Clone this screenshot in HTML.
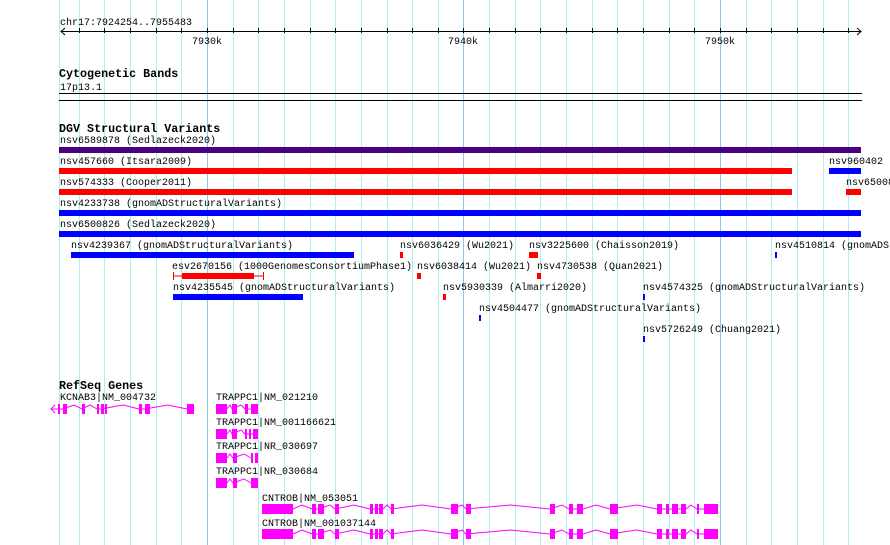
<!DOCTYPE html>
<html><head><meta charset="utf-8"><style>
html,body{margin:0;padding:0;background:#fff;width:890px;height:545px;overflow:hidden}
text{font-family:"Liberation Mono",monospace;font-size:10px;fill:#000}
.b{font-weight:bold;font-size:11.7px}
</style></head><body>
<svg width="890" height="545" xmlns="http://www.w3.org/2000/svg">
<g stroke="#aeeef0" stroke-width="1">
<line x1="59.5" y1="0" x2="59.5" y2="545"/>
<line x1="79.5" y1="0" x2="79.5" y2="545"/><line x1="104.5" y1="0" x2="104.5" y2="545"/><line x1="130.5" y1="0" x2="130.5" y2="545"/><line x1="156.5" y1="0" x2="156.5" y2="545"/><line x1="181.5" y1="0" x2="181.5" y2="545"/>
<line x1="233.5" y1="0" x2="233.5" y2="545"/><line x1="258.5" y1="0" x2="258.5" y2="545"/><line x1="284.5" y1="0" x2="284.5" y2="545"/><line x1="310.5" y1="0" x2="310.5" y2="545"/><line x1="335.5" y1="0" x2="335.5" y2="545"/><line x1="361.5" y1="0" x2="361.5" y2="545"/><line x1="387.5" y1="0" x2="387.5" y2="545"/><line x1="412.5" y1="0" x2="412.5" y2="545"/><line x1="438.5" y1="0" x2="438.5" y2="545"/>
<line x1="489.5" y1="0" x2="489.5" y2="545"/><line x1="515.5" y1="0" x2="515.5" y2="545"/><line x1="540.5" y1="0" x2="540.5" y2="545"/><line x1="566.5" y1="0" x2="566.5" y2="545"/><line x1="592.5" y1="0" x2="592.5" y2="545"/><line x1="617.5" y1="0" x2="617.5" y2="545"/><line x1="643.5" y1="0" x2="643.5" y2="545"/><line x1="669.5" y1="0" x2="669.5" y2="545"/><line x1="694.5" y1="0" x2="694.5" y2="545"/>
<line x1="746.5" y1="0" x2="746.5" y2="545"/><line x1="771.5" y1="0" x2="771.5" y2="545"/><line x1="797.5" y1="0" x2="797.5" y2="545"/><line x1="823.5" y1="0" x2="823.5" y2="545"/><line x1="848.5" y1="0" x2="848.5" y2="545"/>
</g>
<g stroke="#8cc8e8" stroke-width="1">
<line x1="207.5" y1="0" x2="207.5" y2="545"/><line x1="463.5" y1="0" x2="463.5" y2="545"/><line x1="720.5" y1="0" x2="720.5" y2="545"/>
</g>
<!-- ruler -->
<text x="60" y="25">chr17:7924254..7955483</text>
<g stroke="#000" stroke-width="1" fill="none">
<line x1="61" y1="31.5" x2="861" y2="31.5"/>
<polyline points="65,28 61,31.5 65,35"/><polyline points="857,28 861,31.5 857,35"/>
<path d="M79.5 28v5M104.5 28v5M130.5 28v5M156.5 28v5M181.5 28v5M207.5 28v5M233.5 28v5M258.5 28v5M284.5 28v5M310.5 28v5M335.5 28v5M361.5 28v5M387.5 28v5M412.5 28v5M438.5 28v5M463.5 28v5M489.5 28v5M515.5 28v5M540.5 28v5M566.5 28v5M592.5 28v5M617.5 28v5M643.5 28v5M669.5 28v5M694.5 28v5M720.5 28v5M746.5 28v5M771.5 28v5M797.5 28v5M823.5 28v5M848.5 28v5"/>
<line x1="59" y1="93.5" x2="862" y2="93.5"/><line x1="59" y1="100.5" x2="862" y2="100.5"/>
</g>
<text x="192" y="44">7930k</text><text x="448" y="44">7940k</text><text x="705" y="44">7950k</text>
<text class="b" x="59" y="77">Cytogenetic Bands</text>
<text x="60" y="90">17p13.1</text>
<text class="b" x="59" y="132">DGV Structural Variants</text>
<!-- DGV -->
<text x="60" y="143">nsv6589878 (Sedlazeck2020)</text>
<rect x="59" y="147" width="802" height="6" fill="#4b0082"/>
<text x="60" y="164">nsv457660 (Itsara2009)</text>
<rect x="59" y="168" width="733" height="6" fill="#f00"/>
<text x="829" y="164">nsv960402</text>
<rect x="829" y="168" width="32" height="6" fill="#00f"/>
<text x="60" y="185">nsv574333 (Cooper2011)</text>
<rect x="59" y="189" width="733" height="6" fill="#f00"/>
<text x="846" y="185">nsv65008</text>
<rect x="846" y="189" width="15" height="6" fill="#f00"/>
<text x="60" y="206">nsv4233738 (gnomADStructuralVariants)</text>
<rect x="59" y="210" width="802" height="6" fill="#00f"/>
<text x="60" y="227">nsv6500826 (Sedlazeck2020)</text>
<rect x="59" y="231" width="802" height="6" fill="#00f"/>
<text x="71" y="248">nsv4239367 (gnomADStructuralVariants)</text>
<rect x="71" y="252" width="283" height="6" fill="#00f"/>
<text x="400" y="248">nsv6036429 (Wu2021)</text>
<rect x="400" y="252" width="3" height="6" fill="#f00"/>
<text x="529" y="248">nsv3225600 (Chaisson2019)</text>
<rect x="529" y="252" width="9" height="6" fill="#f00"/>
<text x="775" y="248">nsv4510814 (gnomADStructuralVariants)</text>
<rect x="775" y="252" width="2" height="6" fill="#00f"/>
<text x="172" y="269">esv2670156 (1000GenomesConsortiumPhase1)</text>
<g stroke="#f00" stroke-width="1"><line x1="173" y1="276" x2="264" y2="276"/><line x1="173.5" y1="272" x2="173.5" y2="280"/><line x1="263.5" y1="272" x2="263.5" y2="280"/></g>
<rect x="182" y="273" width="72" height="6" fill="#f00"/>
<text x="417" y="269">nsv6038414 (Wu2021)</text>
<rect x="417" y="273" width="4" height="6" fill="#f00"/>
<text x="537" y="269">nsv4730538 (Quan2021)</text>
<rect x="537" y="273" width="4" height="6" fill="#f00"/>
<text x="173" y="290">nsv4235545 (gnomADStructuralVariants)</text>
<rect x="173" y="294" width="130" height="6" fill="#00f"/>
<text x="443" y="290">nsv5930339 (Almarri2020)</text>
<rect x="443" y="294" width="3" height="6" fill="#f00"/>
<text x="643" y="290">nsv4574325 (gnomADStructuralVariants)</text>
<rect x="643" y="294" width="2" height="6" fill="#00f"/>
<text x="479" y="311">nsv4504477 (gnomADStructuralVariants)</text>
<rect x="479" y="315" width="2" height="6" fill="#00f"/>
<text x="643" y="332">nsv5726249 (Chuang2021)</text>
<rect x="643" y="336" width="2" height="6" fill="#00f"/>
<!-- genes -->
<text class="b" x="59" y="389">RefSeq Genes</text>
<text x="60" y="400">KCNAB3|NM_004732</text>
<g stroke="#f0f" stroke-width="1" fill="none">
<polyline points="51,409 59,409 63,409 74,405 82,409 90,405 97,409 99,409 101,409 123,405 139,409 143,409 145,409 168,405 187,409"/>
<polyline points="55,405 51,409 55,413"/>
<polyline points="227,409 230,405 232,409 241,405 245,409 248,409 251,409"/>
<polyline points="227,434 230,430 232,434 241,430 245,434 258,434"/>
<polyline points="227,458 230,454 233,458 244,454 251,458"/>
<polyline points="227,483 230,479 233,483 244,479 251,483"/>
<polyline points="293,509 302,505 312,509 318,509 330,505 335,509 354,505 370,509 383,509 387,505 391,509 422,505 451,509 462,505 466,509 510,505 550,509 562,505 569,509 583,509 596,505 610,509 637,505 657,509 686,509 691,505 697,509 704,509"/>
<polyline points="293,534 302,530 312,534 318,534 330,530 335,534 354,530 370,534 383,534 387,530 391,534 422,530 451,534 462,530 466,534 510,530 550,534 562,530 569,534 583,534 596,530 610,534 637,530 657,534 686,534 691,530 697,534 704,534"/>
</g>
<g fill="#f0f">
<rect x="58" y="404" width="2" height="10"/><rect x="63" y="404" width="4" height="10"/><rect x="82" y="404" width="3" height="10"/><rect x="97" y="404" width="2" height="10"/><rect x="101" y="404" width="3" height="10"/><rect x="105" y="404" width="2" height="10"/><rect x="139" y="404" width="3" height="10"/><rect x="145" y="404" width="5" height="10"/><rect x="187" y="404" width="7" height="10"/>
<rect x="216" y="404" width="11" height="10"/><rect x="232" y="404" width="5" height="10"/><rect x="245" y="404" width="3" height="10"/><rect x="251" y="404" width="7" height="10"/>
<rect x="216" y="429" width="11" height="10"/><rect x="232" y="429" width="5" height="10"/><rect x="245" y="429" width="2" height="10"/><rect x="249" y="429" width="2" height="10"/><rect x="253" y="429" width="5" height="10"/>
<rect x="216" y="453" width="11" height="10"/><rect x="233" y="453" width="4" height="10"/><rect x="251" y="453" width="2" height="10"/><rect x="255" y="453" width="3" height="10"/>
<rect x="216" y="478" width="11" height="10"/><rect x="233" y="478" width="4" height="10"/><rect x="251" y="478" width="7" height="10"/>
</g>
<text x="216" y="400">TRAPPC1|NM_021210</text>
<text x="216" y="425">TRAPPC1|NM_001166621</text>
<text x="216" y="449">TRAPPC1|NR_030697</text>
<text x="216" y="474">TRAPPC1|NR_030684</text>
<text x="262" y="501">CNTROB|NM_053051</text>
<text x="262" y="526">CNTROB|NM_001037144</text>
<g fill="#f0f">
<g id="cn">
<rect x="262" y="504" width="31" height="10"/><rect x="312" y="504" width="4" height="10"/><rect x="318" y="504" width="6" height="10"/><rect x="335" y="504" width="4" height="10"/><rect x="370" y="504" width="3" height="10"/><rect x="375" y="504" width="3" height="10"/><rect x="379" y="504" width="4" height="10"/><rect x="391" y="504" width="3" height="10"/><rect x="451" y="504" width="7" height="10"/><rect x="466" y="504" width="5" height="10"/><rect x="550" y="504" width="5" height="10"/><rect x="569" y="504" width="4" height="10"/><rect x="577" y="504" width="6" height="10"/><rect x="610" y="504" width="8" height="10"/><rect x="657" y="504" width="5" height="10"/><rect x="666" y="504" width="3" height="10"/><rect x="672" y="504" width="6" height="10"/><rect x="681" y="504" width="5" height="10"/><rect x="697" y="504" width="2" height="10"/><rect x="704" y="504" width="14" height="10"/>
</g>
<use href="#cn" y="25"/>
</g>
</svg>
</body></html>
